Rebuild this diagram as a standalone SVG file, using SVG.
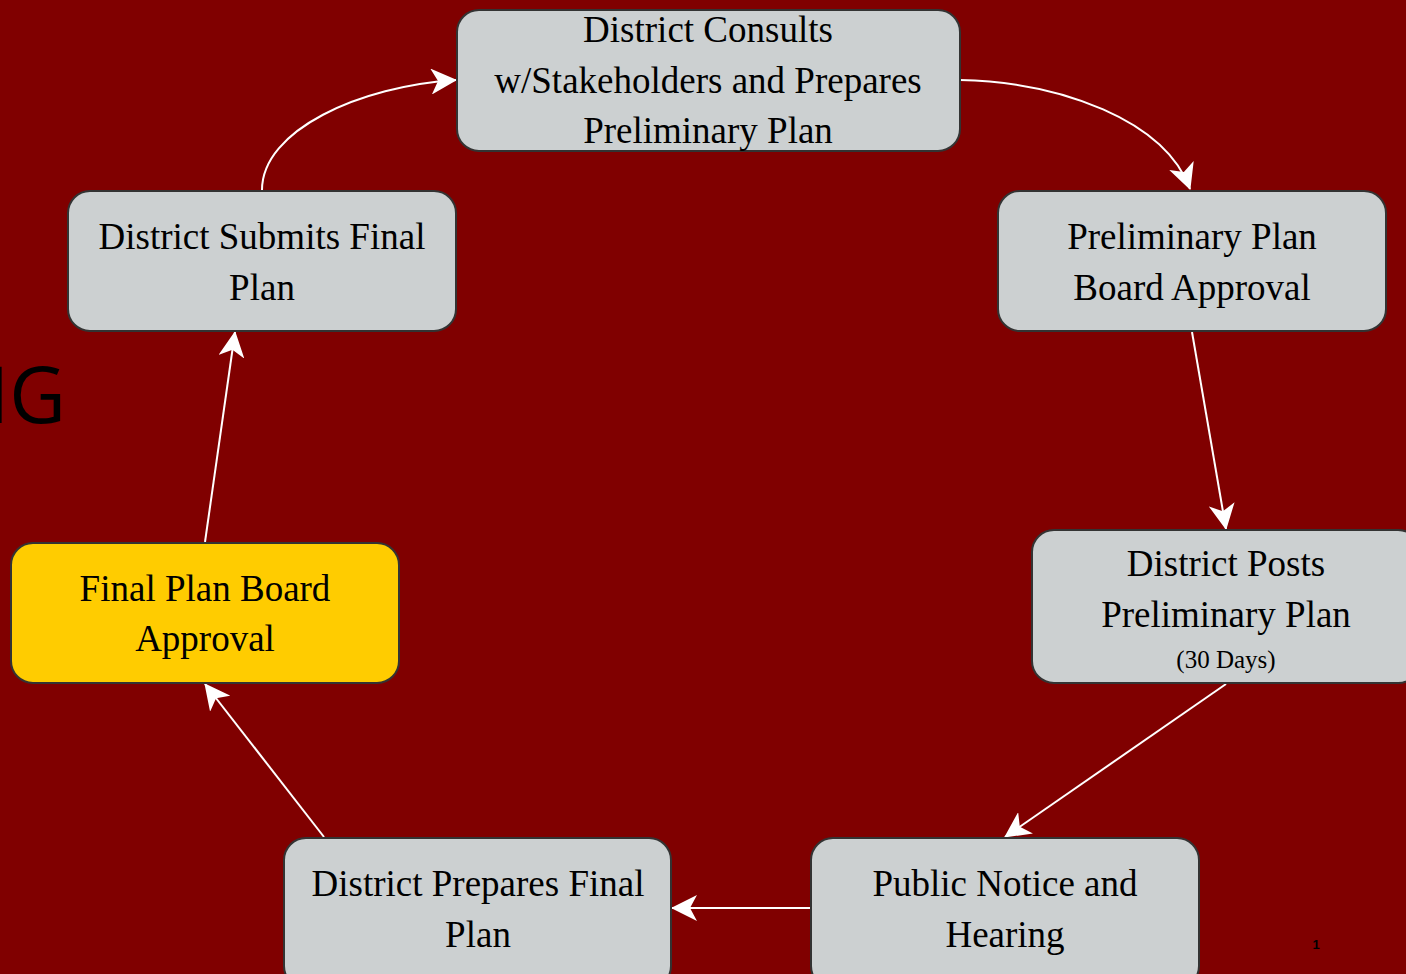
<svg xmlns="http://www.w3.org/2000/svg" width="1406" height="974" viewBox="0 0 1406 974">
<style>
.node rect{fill:#CCD0D1;stroke:#333333;stroke-width:2}
.node.hl rect{fill:#FFCC00}
.t{font-family:"Liberation Serif","Times New Roman",serif;font-size:37px;fill:#000;text-anchor:middle}
.s{font-size:25px}
.c path,.c line{stroke:#fff;stroke-width:2;fill:none}
</style>
<defs>
<marker id="ah" viewBox="0 0 26 26" refX="25" refY="13" markerWidth="26" markerHeight="26" markerUnits="userSpaceOnUse" orient="auto">
<path d="M26,13 L0,0 L7,13 L0,26 Z" fill="#fff"/>
</marker>
</defs>
<rect width="1406" height="974" fill="#800000"/>
<text x="66" y="423" font-family="Open Sans, sans-serif" font-size="78" fill="#000" text-anchor="end">NG</text>
<text x="1316" y="949" font-family="Liberation Sans, sans-serif" font-size="13" font-weight="bold" fill="#000" text-anchor="middle">1</text>
<g class="c">
<path d="M960,80 C1060,82 1165,120 1190,189" marker-end="url(#ah)"/>
<line x1="1192" y1="332" x2="1226" y2="529" marker-end="url(#ah)"/>
<line x1="1226" y1="684" x2="1005" y2="837" marker-end="url(#ah)"/>
<line x1="811" y1="908" x2="672" y2="908" marker-end="url(#ah)"/>
<line x1="324" y1="837" x2="205" y2="684" marker-end="url(#ah)"/>
<line x1="205" y1="542" x2="235" y2="332" marker-end="url(#ah)"/>
<path d="M262,190 C262,130 360,86 456,80" marker-end="url(#ah)"/>
</g>
<g id="n1" class="node"><rect x="457" y="10" width="503" height="141" rx="22"/>
<text class="t" x="708" y="42">District Consults</text>
<text class="t" x="708" y="93">w/Stakeholders and Prepares</text>
<text class="t" x="708" y="143">Preliminary Plan</text></g>
<g id="n2" class="node"><rect x="998" y="191" width="388" height="140" rx="22"/>
<text class="t" x="1192" y="249">Preliminary Plan</text>
<text class="t" x="1192" y="300">Board Approval</text></g>
<g id="n3" class="node"><rect x="1032" y="530" width="388" height="153" rx="22"/>
<text class="t" x="1226" y="576">District Posts</text>
<text class="t" x="1226" y="627">Preliminary Plan</text>
<text class="t s" x="1226" y="668">(30 Days)</text></g>
<g id="n4" class="node"><rect x="811" y="838" width="388" height="150" rx="22"/>
<text class="t" x="1005" y="896">Public Notice and</text>
<text class="t" x="1005" y="947">Hearing</text></g>
<g id="n5" class="node"><rect x="284" y="838" width="387" height="150" rx="22"/>
<text class="t" x="478" y="896">District Prepares Final</text>
<text class="t" x="478" y="947">Plan</text></g>
<g id="n6" class="node hl"><rect x="11" y="543" width="388" height="140" rx="22"/>
<text class="t" x="205" y="601">Final Plan Board</text>
<text class="t" x="205" y="651">Approval</text></g>
<g id="n7" class="node"><rect x="68" y="191" width="388" height="140" rx="22"/>
<text class="t" x="262" y="249">District Submits Final</text>
<text class="t" x="262" y="300">Plan</text></g>
</svg>
